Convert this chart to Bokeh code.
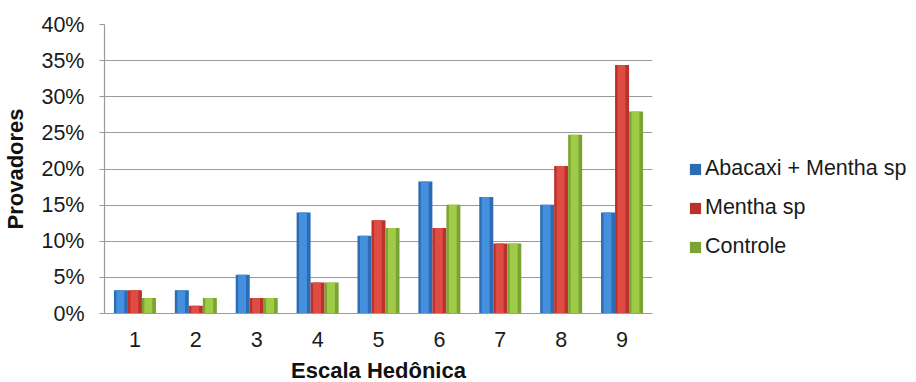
from bokeh.plotting import figure
from bokeh.models import ColumnDataSource, FactorRange, Legend, LegendItem, PrintfTickFormatter, FixedTicker
from bokeh.transform import dodge
from bokeh.embed import file_html
from bokeh.resources import INLINE

categories = ["1", "2", "3", "4", "5", "6", "7", "8", "9"]
abacaxi_mentha = [3.23, 3.23, 5.38, 13.98, 10.75, 18.28, 16.13, 15.05, 13.98]
mentha = [3.23, 1.08, 2.15, 4.30, 12.90, 11.83, 9.68, 20.43, 34.41]
controle = [2.15, 2.15, 2.15, 4.30, 11.83, 15.05, 9.68, 24.73, 27.96]
series_names = ["Abacaxi + Mentha sp", "Mentha sp", "Controle"]
y_ticks = [0, 5, 10, 15, 20, 25, 30, 35, 40]

source = ColumnDataSource(dict(cat=categories, a=abacaxi_mentha, m=mentha, c=controle))

FONT = "Liberation Sans"

p = figure(frame_width=548, frame_height=289, x_range=FactorRange(*categories), y_range=(0, 40),
           output_backend="svg", toolbar_location=None,
           min_border_left=102, min_border_right=266, min_border_top=24, min_border_bottom=69)
p.outline_line_color = None
p.background_fill_color = "white"
p.border_fill_color = "white"

edge_cols = ["#2d6cb4", "#b9322c", "#7ba331"]
mid_cols = ["#4490dc", "#de4c43", "#9fcb48"]
fields = ["a", "m", "c"]
offsets = [-0.23, 0.0, 0.23]
items = []
for f, off, ec, mc, name in zip(fields, offsets, edge_cols, mid_cols, series_names):
    r = p.vbar(x=dodge("cat", off, range=p.x_range), top=f, width=0.23, bottom=0,
               source=source, fill_color=ec, line_color=None)
    p.vbar(x=dodge("cat", off - 0.01, range=p.x_range), top=f, width=0.13, bottom=0,
           source=source, fill_color=mc, line_color=None)
    items.append(LegendItem(label=name, renderers=[r]))

p.yaxis.ticker = FixedTicker(ticks=y_ticks)
p.yaxis.formatter = PrintfTickFormatter(format="%d%%")
p.ygrid.ticker = FixedTicker(ticks=y_ticks)
p.ygrid.grid_line_color = "#9a9a9a"
p.ygrid.grid_line_width = 1.2
p.xgrid.grid_line_color = None

for ax in (p.xaxis, p.yaxis):
    ax.major_label_text_font = FONT
    ax.major_label_text_font_size = "21.5px"
    ax.major_label_text_color = "#1a1a1a"
    ax.axis_label_text_font = FONT
    ax.axis_label_text_font_size = "22px"
    ax.axis_label_text_font_style = "bold"
    ax.axis_label_text_color = "#111111"
    ax.minor_tick_line_color = None

p.yaxis.axis_label = "Provadores"
p.yaxis.axis_line_color = "#9a9a9a"
p.yaxis.axis_line_width = 1.2
p.yaxis.major_tick_line_color = "#9a9a9a"
p.yaxis.major_tick_out = 5
p.yaxis.major_tick_in = 0
p.yaxis.major_label_standoff = 15
p.yaxis.axis_label_standoff = 10

p.xaxis.axis_label = "Escala Hedônica"
p.xaxis.axis_line_color = "#9a9a9a"
p.xaxis.axis_line_width = 1.2
p.xaxis.major_tick_line_color = None
p.xaxis.major_tick_out = 0
p.xaxis.major_tick_in = 0
p.xaxis.major_label_standoff = 18
p.xaxis.axis_label_standoff = 8

legend = Legend(items=items, location=(36, 54), orientation="vertical",
                label_text_font=FONT, label_text_font_size="21.5px", label_text_color="#1a1a1a",
                glyph_width=14, glyph_height=14, label_height=22, spacing=14,
                label_standoff=3, padding=0, margin=0,
                border_line_color=None, background_fill_alpha=0)
p.add_layout(legend, "right")

open("out.html", "w").write(file_html(p, INLINE))
